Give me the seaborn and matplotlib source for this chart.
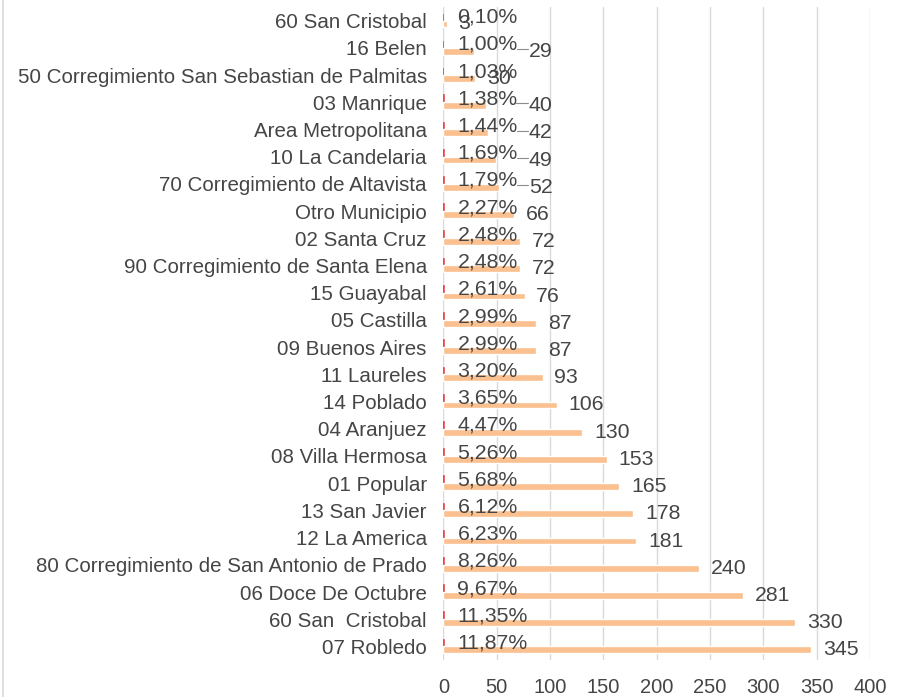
"""Horizontal bar chart of cases by comuna / corregimiento."""

import matplotlib
matplotlib.use("Agg")
import matplotlib.pyplot as plt
import pandas as pd
import seaborn as sns
from matplotlib.lines import Line2D

zonas = [
    "60 San Cristobal",
    "16 Belen",
    "50 Corregimiento San Sebastian de Palmitas",
    "03 Manrique",
    "Area Metropolitana",
    "10 La Candelaria",
    "70 Corregimiento de Altavista",
    "Otro Municipio",
    "02 Santa Cruz",
    "90 Corregimiento de Santa Elena",
    "15 Guayabal",
    "05 Castilla",
    "09 Buenos Aires",
    "11 Laureles",
    "14 Poblado",
    "04 Aranjuez",
    "08 Villa Hermosa",
    "01 Popular",
    "13 San Javier",
    "12 La America",
    "80 Corregimiento de San Antonio de Prado",
    "06 Doce De Octubre",
    "60 San  Cristobal",
    "07 Robledo",
]
casos = [3, 29, 30, 40, 42, 49, 52, 66, 72, 72, 76, 87, 87, 93, 106, 130,
         153, 165, 178, 181, 240, 281, 330, 345]
porcentaje = [0.10, 1.00, 1.03, 1.38, 1.44, 1.69, 1.79, 2.27, 2.48, 2.48, 2.61,
              2.99, 2.99, 3.20, 3.65, 4.47, 5.26, 5.68, 6.12, 6.23, 8.26, 9.67,
              11.35, 11.87]
# count labels that were dragged out of the way in the original chart
etiquetas_movidas = ["16 Belen", "03 Manrique", "Area Metropolitana",
                     "10 La Candelaria", "70 Corregimiento de Altavista"]

ROJO = "#E8494B"
NARANJA = "#FBC08F"
TEXTO = "#454545"
GRIS = "#D9D9D9"

n = len(zonas)
df = pd.DataFrame({
    "zona": zonas * 2,
    "serie": ["porcentaje"] * n + ["casos"] * n,
    # the percentage series sits on the same axis as a fraction
    "valor": [p / 100 for p in porcentaje] + casos,
})

sns.set_theme(style="whitegrid")
plt.rcParams["font.family"] = ["Liberation Sans", "DejaVu Sans"]

fig = plt.figure(figsize=(9.06, 6.97), dpi=100)
ax = fig.add_axes([0.4895, 0.053, 0.4708, 0.937])

sns.barplot(data=df, y="zona", x="valor", hue="serie", orient="h",
            palette=[ROJO, NARANJA], width=0.5, saturation=1,
            legend=False, ax=ax)
ylim = ax.get_ylim()

for patch in ax.containers[0]:
    patch.set_edgecolor(ROJO)
    patch.set_linewidth(1.2)

pct_labels = [f"{p:.2f}%".replace(".", ",") for p in porcentaje]
pct_texts = ax.bar_label(ax.containers[0], labels=pct_labels, padding=10,
                         fontsize=15.3, color=TEXTO)
count_labels = ["" if z in etiquetas_movidas else str(c)
                for z, c in zip(zonas, casos)]
ax.bar_label(ax.containers[1], labels=count_labels, padding=8.5,
             fontsize=15.3, color=TEXTO)

ax.set_xlim(0, 400)
ax.set_xticks(range(0, 401, 50))
ax.set_xlabel("")
ax.set_ylabel("")
ax.grid(axis="x", color=GRIS, linewidth=1)
ax.grid(axis="y", visible=False)
for spine in ax.spines.values():
    spine.set_visible(False)
ax.tick_params(axis="y", length=0, pad=12, labelsize=14.8, labelcolor=TEXTO)
ax.tick_params(axis="x", length=0, pad=13, labelsize=14.5, labelcolor=TEXTO)
ax.set_facecolor("white")

# moved labels with a short leader line back to the percentage label
fig.canvas.draw()
inv = ax.transData.inverted()
for i, zona in enumerate(zonas):
    if zona not in etiquetas_movidas:
        continue
    bar = ax.containers[1][i]
    y = bar.get_y() + bar.get_height() / 2
    x_end = inv.transform(pct_texts[i].get_window_extent().corners()[-1])[0]
    ax.annotate(str(casos[i]), (80, y), ha="left", va="center",
                fontsize=15.3, color=TEXTO)
    ax.plot([x_end - 1, 79], [y - 0.08, y - 0.08], color="#8C8C8C",
            linewidth=0.8, zorder=1)
ax.set_ylim(ylim)

fig.add_artist(Line2D([0.003, 0.003], [0, 1], transform=fig.transFigure,
                      color=GRIS, linewidth=1.2))

fig.savefig("out.png", dpi=100, facecolor="white")
